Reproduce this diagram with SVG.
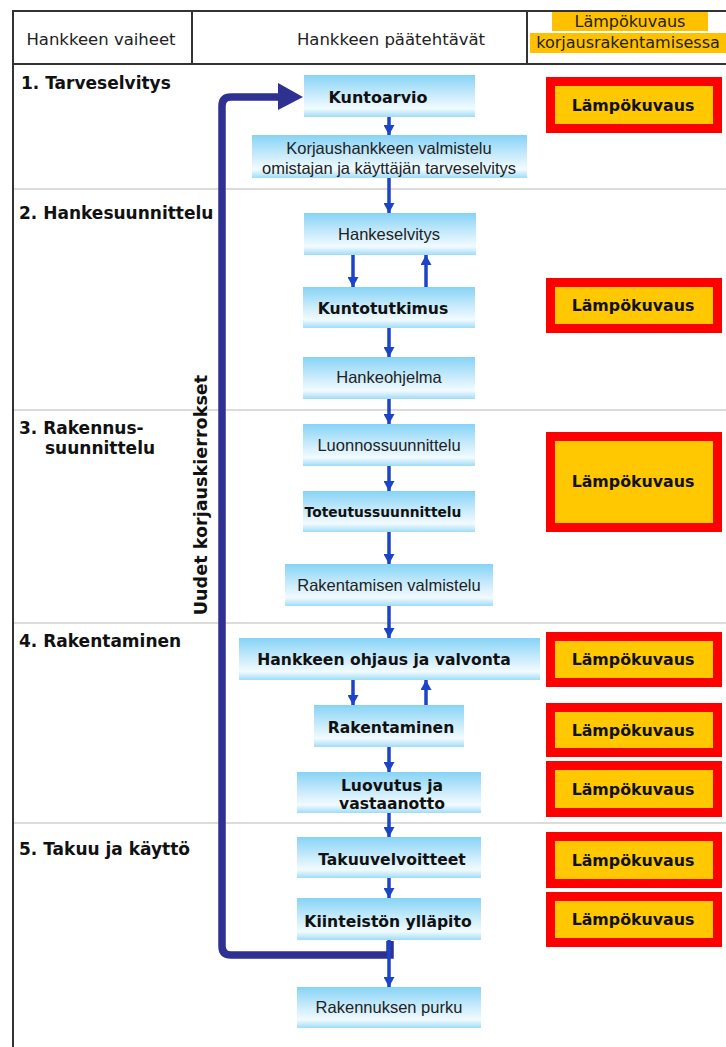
<svg xmlns="http://www.w3.org/2000/svg" width="726" height="1047" viewBox="0 0 726 1047">
<defs>
<linearGradient id="nodeGrad" x1="0" y1="0" x2="0" y2="1">
<stop offset="0" stop-color="#86d3f6"/>
<stop offset="0.45" stop-color="#c6eafb"/>
<stop offset="0.8" stop-color="#f2fbff"/>
<stop offset="1" stop-color="#a0dcf7"/>
</linearGradient>
<marker id="ah" markerUnits="userSpaceOnUse" markerWidth="11" markerHeight="11" refX="10" refY="5.5" orient="auto">
<path d="M0,0 L10,5.5 L0,11 z" fill="#1c44c8"/>
</marker>
<style>
.node rect{fill:url(#nodeGrad);}
.reg{font-family:"Liberation Sans",Arial,sans-serif;font-size:16.5px;fill:#222;text-anchor:middle;}
.bold{font-family:"DejaVu Sans",sans-serif;font-weight:bold;font-size:15.6px;fill:#111;text-anchor:middle;}
.phase{font-family:"DejaVu Sans",sans-serif;font-weight:bold;font-size:17px;fill:#111;}
.hdr{font-family:"DejaVu Sans",sans-serif;font-size:16.5px;fill:#222;text-anchor:middle;}
.lk rect.o{fill:#ff0000;}
.lk rect.i{fill:#ffc800;}
.lk text{font-family:"DejaVu Sans",sans-serif;font-weight:bold;font-size:15.8px;fill:#111;text-anchor:middle;}
.conn line{stroke:#1c44c8;stroke-width:3.5;marker-end:url(#ah);}
.grid{stroke:#dcdcdc;stroke-width:2;}
.border{stroke:#333;stroke-width:2;}
</style>
</defs>
<rect width="726" height="1047" fill="#ffffff"/>

<g id="table">
<line class="grid" x1="13" y1="189" x2="726" y2="189"/>
<line class="grid" x1="13" y1="410" x2="726" y2="410"/>
<line class="grid" x1="13" y1="623" x2="726" y2="623"/>
<line class="grid" x1="13" y1="823" x2="726" y2="823"/>
<line class="border" x1="13" y1="11" x2="726" y2="11"/>
<line class="border" x1="13" y1="64" x2="726" y2="64"/>
<line class="border" x1="13" y1="10" x2="13" y2="1047"/>
<line class="border" x1="192" y1="11" x2="192" y2="64"/>
<line class="border" x1="527" y1="11" x2="527" y2="64"/>
</g>

<g id="header">
<text class="hdr" x="101" y="45">Hankkeen vaiheet</text>
<text class="hdr" x="391" y="45">Hankkeen päätehtävät</text>
<rect x="552" y="12" width="156" height="19" fill="#ffc000"/>
<rect x="530" y="33" width="196" height="20" fill="#ffc000"/>
<text class="hdr" x="630" y="27" style="font-size:16px">Lämpökuvaus</text>
<text class="hdr" x="628" y="48" style="font-size:16px">korjausrakentamisessa</text>
</g>

<g id="phases">
<text class="phase" x="21" y="89">1.  Tarveselvitys</text>
<text class="phase" x="19" y="219">2.  Hankesuunnittelu</text>
<text class="phase" x="19" y="434">3.  Rakennus-</text>
<text class="phase" x="45" y="454">suunnittelu</text>
<text class="phase" x="19" y="647">4.  Rakentaminen</text>
<text class="phase" x="19" y="855">5.  Takuu ja käyttö</text>
</g>

<g id="loop">
<path d="M390,941 V955 H231 Q222,955 222,946 V106 Q222,97 231,97 H281" fill="none" stroke="#2e3192" stroke-width="7.5"/>
<polygon points="278,83 303,97 278,110" fill="#2e3192"/>
<text transform="translate(207,495) rotate(-90)" x="0" y="0" style="font-family:'DejaVu Sans',sans-serif;font-weight:bold;font-size:17.6px;fill:#111;text-anchor:middle">Uudet korjauskierrokset</text>
</g>

<g id="connectors" class="conn">
<line x1="389" y1="117" x2="389" y2="135"/>
<line x1="389" y1="178" x2="389" y2="213"/>
<line x1="353" y1="255" x2="353" y2="287"/>
<line x1="426" y1="287" x2="426" y2="255"/>
<line x1="389" y1="328" x2="389" y2="357"/>
<line x1="389" y1="399" x2="389" y2="424"/>
<line x1="389" y1="466" x2="389" y2="491"/>
<line x1="389" y1="532" x2="389" y2="564"/>
<line x1="389" y1="606" x2="389" y2="638"/>
<line x1="353" y1="680" x2="353" y2="705"/>
<line x1="426" y1="705" x2="426" y2="680"/>
<line x1="389" y1="747" x2="389" y2="772"/>
<line x1="389" y1="813" x2="389" y2="837"/>
<line x1="389" y1="878" x2="389" y2="898"/>
<line x1="389" y1="940" x2="389" y2="987"/>
</g>

<g id="n-kuntoarvio" class="node"><rect x="304" y="75" width="171" height="42"/><text class="bold" x="378" y="103" style="font-size:16px">Kuntoarvio</text></g>
<g id="n-korjaushanke" class="node"><rect x="252" y="135" width="275" height="43"/><text class="reg" x="389" y="154">Korjaushankkeen valmistelu</text><text class="reg" x="389" y="174">omistajan ja käyttäjän tarveselvitys</text></g>
<g id="n-hankeselvitys" class="node"><rect x="304" y="213" width="172" height="42"/><text class="reg" x="389" y="240">Hankeselvitys</text></g>
<g id="n-kuntotutkimus" class="node"><rect x="303" y="287" width="172" height="41"/><text class="bold" x="383" y="314">Kuntotutkimus</text></g>
<g id="n-hankeohjelma" class="node"><rect x="303" y="357" width="172" height="42"/><text class="reg" x="389" y="383">Hankeohjelma</text></g>
<g id="n-luonnos" class="node"><rect x="303" y="424" width="172" height="42"/><text class="reg" x="389" y="451">Luonnossuunnittelu</text></g>
<g id="n-toteutus" class="node"><rect x="303" y="491" width="172" height="41"/><text class="bold" x="383" y="517" style="font-size:13.8px">Toteutussuunnittelu</text></g>
<g id="n-rakvalmistelu" class="node"><rect x="285" y="564" width="208" height="42"/><text class="reg" x="389" y="591">Rakentamisen valmistelu</text></g>
<g id="n-ohjaus" class="node"><rect x="239" y="638" width="301" height="42"/><text class="bold" x="384" y="665">Hankkeen ohjaus ja valvonta</text></g>
<g id="n-rakentaminen" class="node"><rect x="314" y="705" width="150" height="42"/><text class="bold" x="391" y="733">Rakentaminen</text></g>
<g id="n-luovutus" class="node"><rect x="297" y="772" width="184" height="41"/><text class="bold" x="392" y="791">Luovutus ja</text><text class="bold" x="392" y="809">vastaanotto</text></g>
<g id="n-takuu" class="node"><rect x="297" y="837" width="184" height="41"/><text class="bold" x="392" y="865">Takuuvelvoitteet</text></g>
<g id="n-yllapito" class="node"><rect x="297" y="898" width="184" height="42"/><text class="bold" x="388" y="927">Kiinteistön ylläpito</text></g>
<g id="n-purku" class="node"><rect x="297" y="987" width="184" height="41"/><text class="reg" x="389" y="1013">Rakennuksen purku</text></g>

<g id="lk1" class="lk"><rect class="o" x="546" y="77" width="176" height="56"/><rect class="i" x="555" y="86" width="158" height="38"/><text x="633" y="111">Lämpökuvaus</text></g>
<g id="lk2" class="lk"><rect class="o" x="546" y="278" width="176" height="55"/><rect class="i" x="555" y="287" width="158" height="37"/><text x="633" y="311">Lämpökuvaus</text></g>
<g id="lk3" class="lk"><rect class="o" x="546" y="432" width="176" height="100"/><rect class="i" x="555" y="441" width="158" height="82"/><text x="633" y="487">Lämpökuvaus</text></g>
<g id="lk4" class="lk"><rect class="o" x="546" y="632" width="176" height="55"/><rect class="i" x="555" y="641" width="158" height="37"/><text x="633" y="665">Lämpökuvaus</text></g>
<g id="lk5" class="lk"><rect class="o" x="546" y="703" width="176" height="54"/><rect class="i" x="555" y="712" width="158" height="36"/><text x="633" y="736">Lämpökuvaus</text></g>
<g id="lk6" class="lk"><rect class="o" x="546" y="761" width="176" height="56"/><rect class="i" x="555" y="770" width="158" height="38"/><text x="633" y="795">Lämpökuvaus</text></g>
<g id="lk7" class="lk"><rect class="o" x="546" y="832" width="176" height="56"/><rect class="i" x="555" y="841" width="158" height="38"/><text x="633" y="866">Lämpökuvaus</text></g>
<g id="lk8" class="lk"><rect class="o" x="546" y="892" width="176" height="55"/><rect class="i" x="555" y="901" width="158" height="37"/><text x="633" y="925">Lämpökuvaus</text></g>
</svg>
